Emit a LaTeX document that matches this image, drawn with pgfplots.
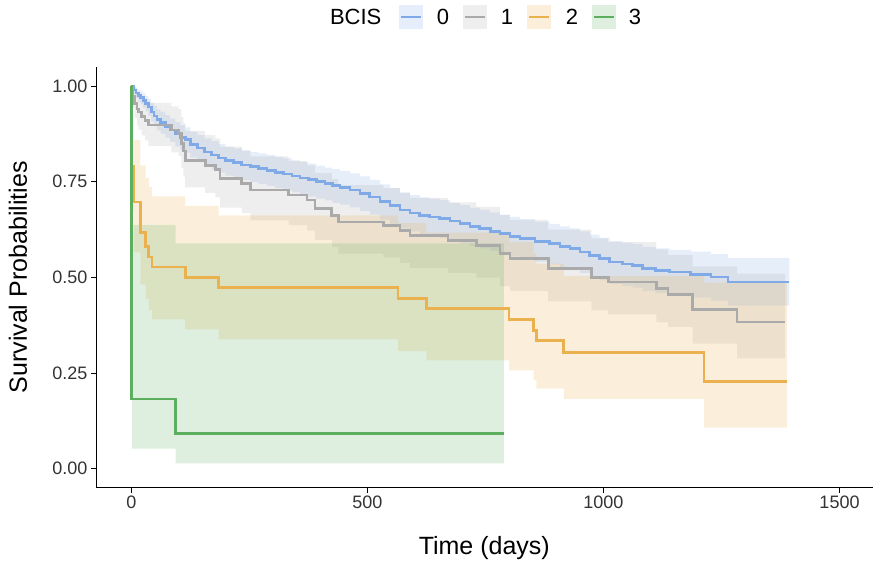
\documentclass[border=0pt]{standalone}
\usepackage{fontspec}
\setmainfont{Liberation Sans}
\usepackage{pgfplots}
\pgfplotsset{compat=1.18}
\usepackage{pgfplotstable}
\usepgfplotslibrary{fillbetween}
\definecolor{c0}{HTML}{80A9E8}
\definecolor{c1}{HTML}{AAAAAA}
\definecolor{c2}{HTML}{EBB14E}
\definecolor{c3}{HTML}{5DAE5F}

\pgfplotstableread{
t s lo up
0 1 1 1
5 0.990 0.980 0.998
10 0.982 0.969 0.993
15 0.975 0.959 0.989
20 0.970 0.952 0.986
25 0.963 0.944 0.981
30 0.955 0.934 0.974
36 0.945 0.922 0.967
42 0.932 0.907 0.956
48 0.922 0.895 0.948
54 0.912 0.884 0.939
62 0.905 0.876 0.933
72 0.895 0.865 0.924
82 0.885 0.854 0.915
93 0.875 0.842 0.906
104 0.866 0.832 0.898
115 0.860 0.826 0.892
125 0.848 0.813 0.881
140 0.838 0.802 0.872
155 0.828 0.791 0.863
170 0.820 0.782 0.856
185 0.812 0.774 0.849
199 0.805 0.766 0.842
217 0.800 0.761 0.837
234 0.794 0.754 0.832
252 0.789 0.749 0.828
269 0.785 0.744 0.824
287 0.780 0.739 0.820
304.6 0.775 0.733 0.815
322 0.770 0.728 0.811
340 0.765 0.722 0.806
357 0.760 0.717 0.801
375 0.755 0.711 0.797
392 0.750 0.706 0.792
410 0.745 0.701 0.787
426 0.740 0.695 0.783
442 0.735 0.690 0.778
463 0.728 0.683 0.772
484 0.720 0.674 0.764
505 0.710 0.664 0.755
526.8 0.698 0.651 0.743
548 0.687 0.640 0.733
569 0.676 0.628 0.722
590 0.668 0.620 0.715
611 0.662 0.613 0.709
632 0.658 0.609 0.706
653 0.654 0.604 0.702
675 0.647 0.597 0.695
696 0.640 0.589 0.689
717 0.633 0.582 0.682
738 0.627 0.576 0.677
760 0.620 0.569 0.670
780.6 0.614 0.562 0.664
802 0.607 0.555 0.658
823 0.601 0.548 0.652
855 0.594 0.541 0.646
886 0.588 0.534 0.640
908 0.581 0.527 0.633
929 0.575 0.520 0.628
950 0.566 0.511 0.620
971 0.558 0.502 0.612
992 0.549 0.493 0.604
1013 0.540 0.483 0.595
1040 0.535 0.478 0.591
1062 0.531 0.473 0.587
1083 0.523 0.464 0.580
1110 0.518 0.459 0.576
1140 0.514 0.454 0.572
1185 0.508 0.447 0.567
1228 0.501 0.439 0.561
1264 0.488 0.426 0.551
1394 0.488 0.426 0.551
}\gA

\pgfplotstableread{
t s lo up
0 1 1 1
3 0.973 0.943 1.000
7 0.955 0.917 0.995
12 0.940 0.897 0.985
15 0.932 0.886 0.980
22 0.920 0.871 0.972
29 0.910 0.858 0.965
36 0.898 0.843 0.956
85 0.885 0.827 0.947
100 0.876 0.817 0.940
106 0.850 0.786 0.919
110 0.830 0.763 0.903
114 0.806 0.735 0.883
156.5 0.793 0.721 0.872
177.7 0.782 0.709 0.863
188 0.758 0.682 0.842
234 0.745 0.668 0.831
252 0.728 0.649 0.816
333 0.715 0.636 0.804
372 0.702 0.622 0.793
389 0.680 0.598 0.773
424.6 0.662 0.579 0.757
438.6 0.645 0.562 0.741
533.7 0.636 0.552 0.733
569 0.623 0.538 0.721
590 0.610 0.525 0.708
671 0.597 0.512 0.696
731 0.584 0.499 0.684
780.6 0.562 0.477 0.663
802 0.549 0.464 0.650
883 0.523 0.437 0.625
974.6 0.499 0.414 0.602
1010 0.488 0.403 0.592
1112 0.470 0.382 0.573
1137 0.455 0.370 0.558
1189 0.416 0.327 0.529
1283 0.383 0.288 0.510
1385 0.383 0.288 0.510
}\gB

\pgfplotstableread{
t s lo up
0 1 1 1
1 0.790 0.671 0.930
5 0.697 0.565 0.859
19 0.618 0.481 0.793
30 0.580 0.443 0.760
37 0.553 0.415 0.736
44 0.527 0.390 0.712
114 0.500 0.364 0.687
185 0.473 0.338 0.662
565 0.444 0.307 0.642
625 0.418 0.283 0.617
800 0.390 0.257 0.592
852 0.361 0.231 0.563
858 0.335 0.209 0.536
916 0.303 0.182 0.504
1213 0.228 0.107 0.486
1389 0.228 0.107 0.486
}\gC

\pgfplotstableread{
t s lo up
0 1 1 1
1 0.182 0.052 0.637
94 0.091 0.014 0.589
789 0.091 0.014 0.589
}\gD

\begin{document}
\begin{tikzpicture}
\path (0,0) rectangle (873pt,565pt);
\begin{axis}[at={(96pt,77pt)}, anchor=south west, scale only axis,
  width=777pt, height=421pt,
  xmin=-75, xmax=1570, ymin=-0.05, ymax=1.05,
  axis lines*=left, axis line style={line width=0.9pt, black},
  xtick={0,500,1000,1500}, xticklabels={0,500,1000,1500},
  ytick={0,0.25,0.5,0.75,1}, yticklabels={0.00,0.25,0.50,0.75,1.00},
  tick align=outside, major tick length=5pt,
  tick style={line width=0.9pt, black},
  ticklabel style={font=\fontsize{18}{20}\selectfont, text=black!80},
  xlabel={Time (days)}, ylabel={Survival Probabilities},
  label style={font=\fontsize{25}{28}\selectfont},
  xlabel style={at={(axis description cs:0.5,-0.1425)}, anchor=center},
  ylabel style={at={(axis description cs:-0.1004,0.5)}, anchor=center},
]
% bands
\addplot[name path=uA, const plot, draw=none, forget plot] table[x=t,y=up]{\gA};
\addplot[name path=lA, const plot, draw=none, forget plot] table[x=t,y=lo]{\gA};
\addplot[fill=c0, fill opacity=0.2, draw=none, forget plot] fill between[of=uA and lA];
\addplot[name path=uB, const plot, draw=none, forget plot] table[x=t,y=up]{\gB};
\addplot[name path=lB, const plot, draw=none, forget plot] table[x=t,y=lo]{\gB};
\addplot[fill=c1, fill opacity=0.2, draw=none, forget plot] fill between[of=uB and lB];
\addplot[name path=uC, const plot, draw=none, forget plot] table[x=t,y=up]{\gC};
\addplot[name path=lC, const plot, draw=none, forget plot] table[x=t,y=lo]{\gC};
\addplot[fill=c2, fill opacity=0.2, draw=none, forget plot] fill between[of=uC and lC];
\addplot[name path=uD, const plot, draw=none, forget plot] table[x=t,y=up]{\gD};
\addplot[name path=lD, const plot, draw=none, forget plot] table[x=t,y=lo]{\gD};
\addplot[fill=c3, fill opacity=0.2, draw=none, forget plot] fill between[of=uD and lD];
% curves
\addplot[const plot, c0, line width=2.7pt] table[x=t,y=s]{\gA};
\addplot[const plot, c1, line width=2.7pt] table[x=t,y=s]{\gB};
\addplot[const plot, c2, line width=2.7pt] table[x=t,y=s]{\gC};
\addplot[const plot, c3, line width=2.7pt] table[x=t,y=s]{\gD};
\end{axis}
% legend
\begin{scope}[every node/.style={inner sep=0pt, anchor=west, font=\fontsize{22}{24}\selectfont}]
\node at (330pt,548pt) {BCIS};
\fill[c0!20] (399pt,536pt) rectangle (423pt,560pt);
\draw[c0, line width=2.7pt] (401pt,548pt) -- (421pt,548pt);
\node at (437pt,548pt) {0};
\fill[c1!20] (463pt,536pt) rectangle (487pt,560pt);
\draw[c1, line width=2.7pt] (465pt,548pt) -- (485pt,548pt);
\node at (501pt,548pt) {1};
\fill[c2!20] (527pt,536pt) rectangle (551pt,560pt);
\draw[c2, line width=2.7pt] (529pt,548pt) -- (549pt,548pt);
\node at (566pt,548pt) {2};
\fill[c3!20] (592pt,536pt) rectangle (616pt,560pt);
\draw[c3, line width=2.7pt] (594pt,548pt) -- (614pt,548pt);
\node at (629pt,548pt) {3};
\end{scope}
\end{tikzpicture}
\end{document}
